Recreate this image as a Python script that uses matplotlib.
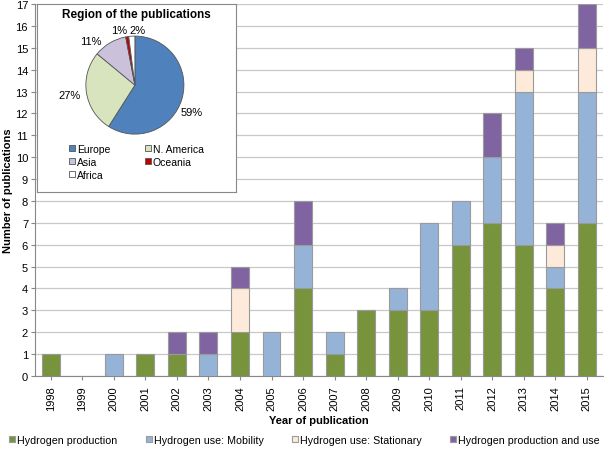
import matplotlib
matplotlib.use("Agg")
import matplotlib.pyplot as plt
import numpy as np

plt.rcParams['font.family'] = ['Liberation Sans', 'DejaVu Sans']

years = ["1998", "1999", "2000", "2001", "2002", "2003", "2004", "2005", "2006",
         "2007", "2008", "2009", "2010", "2011", "2012", "2013", "2014", "2015"]
production = [1, 0, 0, 1, 1, 0, 2, 0, 4, 1, 3, 3, 3, 6, 7, 6, 4, 7]
mobility =   [0, 0, 1, 0, 0, 1, 0, 2, 2, 1, 0, 1, 4, 2, 3, 7, 1, 6]
stationary = [0, 0, 0, 0, 0, 0, 2, 0, 0, 0, 0, 0, 0, 0, 0, 1, 1, 2]
prod_use =   [0, 0, 0, 0, 1, 1, 1, 0, 2, 0, 0, 0, 0, 0, 2, 1, 1, 2]
series_names = ["Hydrogen production", "Hydrogen use: Mobility",
                "Hydrogen use: Stationary", "Hydrogen production and use"]
series_colors = ["#77933C", "#95B3D7", "#FDEADA", "#8064A2"]

regions = ["Europe", "N. America", "Asia", "Oceania", "Africa"]
region_share = [59, 27, 11, 1, 2]
region_colors = ["#4F81BD", "#D7E4BD", "#CCC1DA", "#C00000", "#FFFFFF"]

fig = plt.figure(figsize=(6.09, 4.52), dpi=100)
ax = fig.add_axes([0.0575, 0.166, 0.932, 0.823])

x = np.arange(len(years))
bottom = np.zeros(len(years))
for vals, name, col in zip([production, mobility, stationary, prod_use], series_names, series_colors):
    v = np.array(vals, dtype=float)
    ax.bar(x, v, bottom=bottom, width=0.57, color=col, edgecolor="#9a9a9a",
           linewidth=np.where(v > 0, 0.8, 0.0), label=name, zorder=3)
    bottom += v

ax.set_xlim(-0.5, len(years) - 0.5)
ax.set_ylim(0, 17)
ax.set_yticks(range(0, 18))
ax.set_xticks(x)
ax.set_xticklabels(years, rotation=90, fontsize=8)
ax.tick_params(axis='y', labelsize=8, length=3, color="#888888", pad=2)
ax.tick_params(axis='x', length=3, color="#888888")
ax.grid(axis='y', color="#c8c8c8", linewidth=0.9, zorder=0)
for s in ["top", "right"]:
    ax.spines[s].set_visible(False)
for s in ["left", "bottom"]:
    ax.spines[s].set_color("#888888")
ax.set_ylabel("Number of publications", fontsize=8, fontweight="bold", labelpad=2)
ax.set_xlabel("Year of publication", fontsize=8, fontweight="bold", labelpad=4)

handles, labels = ax.get_legend_handles_labels()
leg = fig.legend(handles, labels, loc="center", bbox_to_anchor=(0.5, 0.025), ncol=4,
                 frameon=False, fontsize=7.7, handlelength=0.6, handleheight=0.6,
                 handletextpad=0.2, columnspacing=2.6)
for h in leg.legend_handles:
    h.set_linewidth(0.8)

# Inset pie
box = fig.add_axes([0.061, 0.573, 0.327, 0.416])
box.set_xticks([]); box.set_yticks([])
box.set_facecolor("white")
for s in box.spines.values():
    s.set_color("#888888")
box.set_zorder(5)
box.text(0.5, 0.945, "Region of the publications", ha="center", va="center",
         fontsize=8.5, fontweight="bold", transform=box.transAxes)

pie_ax = fig.add_axes([0.141, 0.701, 0.161, 0.217])
pie_ax.set_zorder(6)
wedges, _ = pie_ax.pie(region_share, colors=region_colors, startangle=90,
                       counterclock=False, radius=1.0,
                       wedgeprops=dict(edgecolor="#555555", linewidth=0.6))
pie_ax.set_xlim(-1, 1)
pie_ax.set_ylim(-1, 1)
pie_ax.set_aspect("equal")
label_pos = [(1.15, -0.55), (-1.33, -0.2), (-0.9, 0.9), (-0.32, 1.12), (0.06, 1.12)]
for v, (lx, ly) in zip(region_share, label_pos):
    pie_ax.text(lx, ly, f"{v}%", ha="center", va="center", fontsize=8, clip_on=False)

order = [0, 2, 4, 1, 3]
box.legend([wedges[i] for i in order], [regions[i] for i in order],
           loc="upper left", bbox_to_anchor=(0.14, 0.28), ncol=2,
           frameon=False, fontsize=7.5, handlelength=0.6, handleheight=0.6,
           handletextpad=0.15, columnspacing=3.3, labelspacing=0.3,
           borderaxespad=0)

fig.savefig("out.png", dpi=100)
